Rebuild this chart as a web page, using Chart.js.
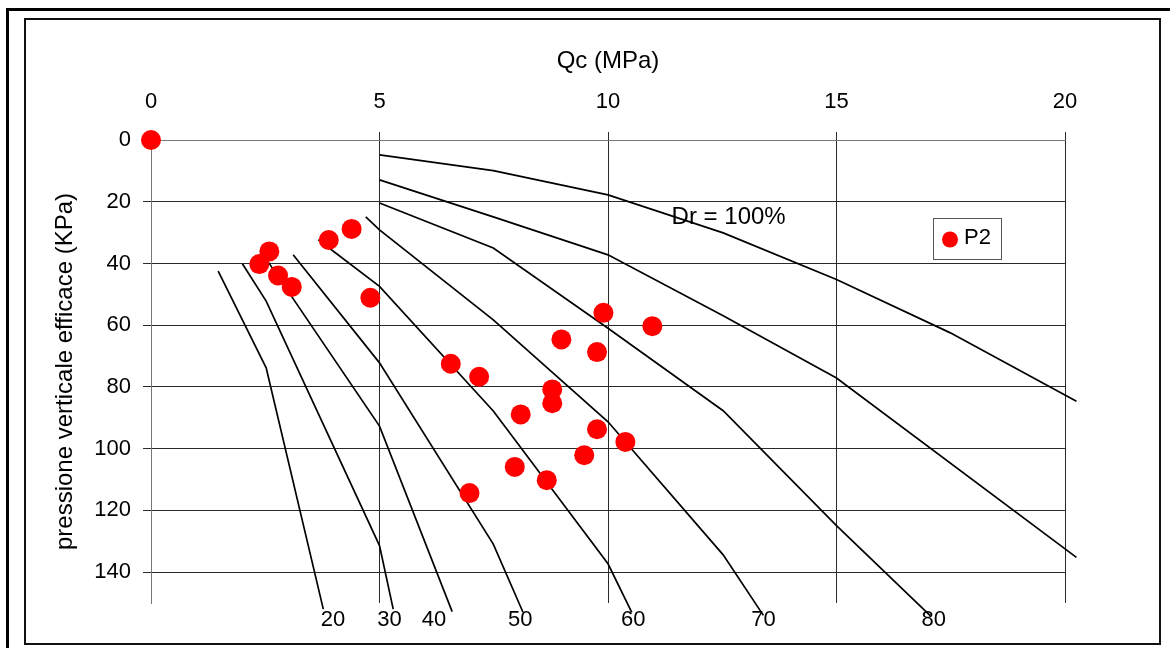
<!DOCTYPE html>
<html><head><meta charset="utf-8">
<script src="https://cdn.jsdelivr.net/npm/chart.js@4.4.1/dist/chart.umd.min.js"></script>
<style>
html,body{margin:0;padding:0;background:#fff;width:1170px;height:648px;overflow:hidden;}
#outer{position:absolute;left:6px;top:8px;width:1300px;height:800px;border:3px solid #000;box-sizing:border-box;}
#inner{position:absolute;left:24px;top:18px;width:1137px;height:627px;border:2px solid #111;box-sizing:border-box;}
#wrap{position:absolute;left:0;top:0;width:1170px;height:648px;}
</style></head>
<body>
<div id="outer"></div><div id="inner"></div>
<div id="wrap"><canvas id="c" width="1170" height="648"></canvas></div>
<script>
// ---- tick labels ----
const xTicks = [0, 5, 10, 15, 20];
const yTicks = [0, 20, 40, 60, 80, 100, 120, 140];

// ---- measured points P2 (Qc MPa, sigma' kPa) ----
const p2Qc  = [0, 2.59, 2.37, 2.78, 3.08, 3.89, 4.39, 4.80, 6.56, 7.18, 8.98, 9.90, 10.97, 9.76, 8.78, 8.78, 8.09, 9.76, 10.38, 9.48, 7.96, 8.66, 6.97];
const p2Sig = [0, 36.1, 40.2, 43.9, 47.6, 32.4, 28.8, 51.1, 72.5, 76.7, 64.6, 56.0, 60.3, 68.7, 80.8, 85.3, 88.9, 93.7, 97.8, 102.1, 105.9, 110.2, 114.4];

// ---- relative density curves ----
const dr20Qc  = [1.47, 2.52, 3.77];
const dr20Sig = [42.5, 73.8, 152.0];
const dr30Qc  = [2.0, 2.52, 5.0, 5.30];
const dr30Sig = [40.1, 52.2, 131.4, 152.0];
const dr40Qc  = [2.56, 5.0, 6.59];
const dr40Sig = [39.4, 92.7, 152.8];
const dr50Qc  = [3.11, 5.0, 7.49, 8.14];
const dr50Sig = [37.2, 72.2, 130.9, 153.0];
const dr60Qc  = [3.66, 5.0, 7.49, 10.0, 10.52];
const dr60Sig = [32.3, 47.4, 87.8, 137.3, 153.0];
const dr70Qc  = [4.70, 5.0, 7.49, 10.0, 12.52, 13.4];
const dr70Sig = [24.9, 29.1, 58.3, 91.3, 134.4, 154.0];
const dr80Qc  = [5.0, 7.49, 10.0, 12.52, 15.0, 17.05];
const dr80Sig = [20.4, 35.0, 61.0, 87.7, 124.9, 154.1];
const dr90Qc  = [5.0, 7.49, 10.0, 12.52, 15.0, 20.25];
const dr90Sig = [12.9, 24.9, 37.2, 56.9, 77.1, 135.2];
const dr100Qc  = [5.0, 7.49, 10.0, 12.52, 15.0, 17.48, 20.25];
const dr100Sig = [4.8, 9.9, 17.8, 30.1, 45.2, 62.4, 84.6];

const curveNames = ['20', '30', '40', '50', '60', '70', '80', '90', '100'];
const curveQc  = [dr20Qc, dr30Qc, dr40Qc, dr50Qc, dr60Qc, dr70Qc, dr80Qc, dr90Qc, dr100Qc];
const curveSig = [dr20Sig, dr30Sig, dr40Sig, dr50Sig, dr60Sig, dr70Sig, dr80Sig, dr90Sig, dr100Sig];

// curve end labels (text) anchored in data coordinates
const endLabels   = ['20', '30', '40', '50', '60', '70', '80'];
const endLabelQc  = [3.98, 5.22, 6.19, 8.08, 10.55, 13.40, 17.13];
const endLabelSig = 155.4;

const FONT = "'Liberation Sans', Arial, Helvetica, sans-serif";
Chart.defaults.font.family = FONT;
Chart.defaults.font.size = 22;
Chart.defaults.color = '#000';

function toPts(qc, sig) { return qc.map((x, i) => ({ x: x, y: sig[i] })); }

const datasets = [{
  label: 'P2', data: toPts(p2Qc, p2Sig), showLine: false,
  pointRadius: 10, pointHoverRadius: 10, pointBackgroundColor: '#ff0000',
  pointBorderWidth: 0, pointBorderColor: '#ff0000', clip: false, order: 0
}];
curveNames.forEach((n, i) => {
  datasets.push({
    label: 'Dr ' + n, data: toPts(curveQc[i], curveSig[i]), showLine: true,
    borderColor: '#000', borderWidth: 1.7, pointRadius: 0, pointHoverRadius: 0,
    fill: false, tension: 0, clip: false, order: 1
  });
});

const annot = {
  id: 'annot',
  beforeDatasetsDraw(chart) {
    const { ctx, scales: { x, y } } = chart;
    ctx.save();
    ctx.fillStyle = '#000';
    ctx.textAlign = 'center';
    ctx.textBaseline = 'middle';
    ctx.font = '22px ' + FONT;
    endLabels.forEach((t, i) => {
      ctx.fillText(t, x.getPixelForValue(endLabelQc[i]), y.getPixelForValue(endLabelSig));
    });
    ctx.font = '24px ' + FONT;
    ctx.fillText('Dr = 100%', x.getPixelForValue(12.64), y.getPixelForValue(25.2));
    ctx.restore();
  },
  afterDraw(chart) {
    const { ctx } = chart;
    ctx.save();
    // legend box
    ctx.fillStyle = '#fff';
    ctx.fillRect(933, 218, 68, 41);
    ctx.strokeStyle = '#555';
    ctx.lineWidth = 1;
    ctx.strokeRect(933.5, 218.5, 68, 41);
    ctx.fillStyle = '#ff0000';
    ctx.beginPath();
    ctx.arc(950, 239.5, 8, 0, Math.PI * 2);
    ctx.fill();
    ctx.fillStyle = '#000';
    ctx.font = '22px ' + FONT;
    ctx.textAlign = 'left';
    ctx.textBaseline = 'middle';
    ctx.fillText('P2', 964, 238);
    ctx.restore();
  }
};

new Chart(document.getElementById('c'), {
  type: 'scatter',
  data: { datasets: datasets },
  plugins: [annot],
  options: {
    responsive: false,
    devicePixelRatio: 1,
    animation: false,
    events: [],
    layout: { padding: { left: 47, top: 40, right: 105, bottom: 45 } },
    plugins: { legend: { display: false }, tooltip: { enabled: false } },
    scales: {
      x: {
        type: 'linear', position: 'top', min: 0, max: 20,
        afterBuildTicks: s => { s.ticks = xTicks.map(v => ({ value: v })); },
        afterFit: s => { s.height = 100; },
        grid: { color: '#2a2a2a', lineWidth: 1, tickLength: 8, drawTicks: true },
        border: { color: '#777', width: 1 },
        ticks: { padding: 17, maxRotation: 0, color: '#000', font: { size: 22 } },
        title: { display: true, text: 'Qc (MPa)', color: '#000', font: { size: 24 }, padding: { top: 7, bottom: 0 } }
      },
      y: {
        type: 'linear', position: 'left', reverse: true, min: 0, max: 150,
        afterBuildTicks: s => { s.ticks = yTicks.map(v => ({ value: v })); },
        afterFit: s => { s.width = 104; },
        grid: { color: '#2a2a2a', lineWidth: 1, tickLength: 8, drawTicks: true },
        border: { color: '#777', width: 1 },
        ticks: { padding: 12, color: '#000', font: { size: 22 } },
        title: { display: true, text: 'pressione verticale efficace (KPa)', color: '#000', font: { size: 24 }, padding: { top: 4, bottom: 4 } }
      }
    }
  }
});
</script>
</body></html>
